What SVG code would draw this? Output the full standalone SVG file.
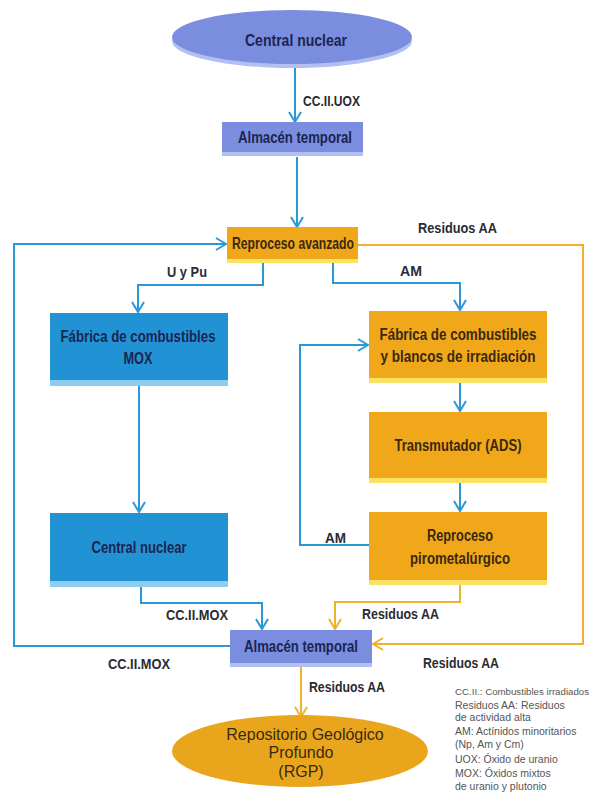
<svg xmlns="http://www.w3.org/2000/svg" width="592" height="810" viewBox="0 0 592 810">
<defs>
<style>
.bl{fill:none;stroke:#2a98d8;stroke-width:2}
.ol{fill:none;stroke:#f0b22a;stroke-width:2}
.t{font-family:"Liberation Sans Narrow","Liberation Sans",Arial,sans-serif;font-weight:bold;font-size:16px}
.tb{fill:#1b2550}
.to{fill:#3a2810}
.lab{font-family:"Liberation Sans Narrow","Liberation Sans",Arial,sans-serif;font-weight:bold;font-size:15px;fill:#2b2b33}
.leg{font-family:"Liberation Sans Narrow","Liberation Sans",Arial,sans-serif;font-size:10.5px;fill:#555}
.per{fill:#7a8ddf}.pers{fill:#b3bff0}
.blu{fill:#2193d5}.blus{fill:#8fcdf0}
.ora{fill:#f0a81a}.oras{fill:#fae264}
</style>
<marker id="ab" viewBox="0 0 12 14" refX="11" refY="7" markerWidth="12" markerHeight="14" markerUnits="userSpaceOnUse" orient="auto"><path d="M1,1 L11,7 L1,13" fill="none" stroke="#2a98d8" stroke-width="2"/></marker>
<marker id="ao" viewBox="0 0 12 14" refX="11" refY="7" markerWidth="12" markerHeight="14" markerUnits="userSpaceOnUse" orient="auto"><path d="M1,1 L11,7 L1,13" fill="none" stroke="#f0b22a" stroke-width="2"/></marker>
</defs>
<rect width="592" height="810" fill="#ffffff"/>

<g id="connectors">
<path class="bl" d="M295,67 V122" marker-end="url(#ab)"/>
<path class="bl" d="M297,157 V227" marker-end="url(#ab)"/>
<path class="bl" d="M230,646 H14 V244 H226" marker-end="url(#ab)"/>
<path class="ol" d="M358,245 H583 V644 H373" marker-end="url(#ao)"/>
<path class="bl" d="M263,263 V285 H138 V312" marker-end="url(#ab)"/>
<path class="bl" d="M333,263 V283 H460 V310" marker-end="url(#ab)"/>
<path class="bl" d="M139,386 V512" marker-end="url(#ab)"/>
<path class="bl" d="M141,587 V603 H262 V629" marker-end="url(#ab)"/>
<path class="bl" d="M460,383 V411" marker-end="url(#ab)"/>
<path class="bl" d="M460,483 V511" marker-end="url(#ab)"/>
<path class="bl" d="M369,545 H300 V345 H368" marker-end="url(#ab)"/>
<path class="ol" d="M460,585 V602 H335 V629" marker-end="url(#ao)"/>
<path class="ol" d="M301,667 V717" marker-end="url(#ao)"/>
<text class="lab" x="303" y="106" textLength="57" lengthAdjust="spacingAndGlyphs">CC.II.UOX</text>
<text class="lab" x="418" y="233" textLength="79" lengthAdjust="spacingAndGlyphs">Residuos AA</text>
<text class="lab" x="167" y="277" textLength="40" lengthAdjust="spacingAndGlyphs">U y Pu</text>
<text class="lab" x="400" y="276" textLength="22" lengthAdjust="spacingAndGlyphs">AM</text>
<text class="lab" x="325" y="543" textLength="21" lengthAdjust="spacingAndGlyphs">AM</text>
<text class="lab" x="166" y="620" textLength="62" lengthAdjust="spacingAndGlyphs">CC.II.MOX</text>
<text class="lab" x="362" y="619" textLength="77" lengthAdjust="spacingAndGlyphs">Residuos AA</text>
<text class="lab" x="108" y="669" textLength="62" lengthAdjust="spacingAndGlyphs">CC.II.MOX</text>
<text class="lab" x="423" y="668" textLength="76" lengthAdjust="spacingAndGlyphs">Residuos AA</text>
<text class="lab" x="309" y="692" textLength="76" lengthAdjust="spacingAndGlyphs">Residuos AA</text>
</g>

<g id="central-nuclear-top">
<ellipse cx="292" cy="41" rx="120" ry="27" class="pers"/>
<ellipse cx="292" cy="37" rx="120" ry="27" class="per"/>
<text class="t tb" x="296" y="46" text-anchor="middle" textLength="102" lengthAdjust="spacingAndGlyphs">Central nuclear</text>
</g>

<g id="almacen-1">
<rect x="222" y="126" width="141" height="30" class="pers"/>
<rect x="222" y="122" width="141" height="30" class="per"/>
<text class="t tb" x="295" y="143" text-anchor="middle" textLength="114" lengthAdjust="spacingAndGlyphs">Almacén temporal</text>
</g>

<g id="reproceso-avanzado">
<rect x="227" y="231" width="131" height="32" class="oras"/>
<rect x="227" y="227" width="131" height="32" class="ora"/>
<text class="t to" x="293" y="249" text-anchor="middle" textLength="122" lengthAdjust="spacingAndGlyphs">Reproceso avanzado</text>
</g>

<g id="fabrica-mox">
<rect x="50" y="319" width="178" height="67" class="blus"/>
<rect x="50" y="313" width="178" height="67" class="blu"/>
<text class="t tb" x="138" y="342" text-anchor="middle" textLength="155" lengthAdjust="spacingAndGlyphs">Fábrica de combustibles</text>
<text class="t tb" x="138" y="364" text-anchor="middle" textLength="29" lengthAdjust="spacingAndGlyphs">MOX</text>
</g>

<g id="central-nuclear-box">
<rect x="50" y="519" width="178" height="68" class="blus"/>
<rect x="50" y="513" width="178" height="68" class="blu"/>
<text class="t tb" x="139" y="553" text-anchor="middle" textLength="95" lengthAdjust="spacingAndGlyphs">Central nuclear</text>
</g>

<g id="fabrica-blancos">
<rect x="369" y="316" width="178" height="67" class="oras"/>
<rect x="369" y="311" width="178" height="67" class="ora"/>
<text class="t to" x="458" y="340" text-anchor="middle" textLength="157" lengthAdjust="spacingAndGlyphs">Fábrica de combustibles</text>
<text class="t to" x="458" y="362" text-anchor="middle" textLength="155" lengthAdjust="spacingAndGlyphs">y blancos de irradiación</text>
</g>

<g id="transmutador">
<rect x="369" y="417" width="178" height="66" class="oras"/>
<rect x="369" y="412" width="178" height="66" class="ora"/>
<text class="t to" x="458" y="451" text-anchor="middle" textLength="127" lengthAdjust="spacingAndGlyphs">Transmutador (ADS)</text>
</g>

<g id="reproceso-pirometalurgico">
<rect x="369" y="517" width="178" height="68" class="oras"/>
<rect x="369" y="512" width="178" height="68" class="ora"/>
<text class="t to" x="460" y="541" text-anchor="middle" textLength="66" lengthAdjust="spacingAndGlyphs">Reproceso</text>
<text class="t to" x="460" y="564" text-anchor="middle" textLength="100" lengthAdjust="spacingAndGlyphs">pirometalúrgico</text>
</g>

<g id="almacen-2">
<rect x="230" y="634" width="142" height="33" class="pers"/>
<rect x="230" y="630" width="142" height="33" class="per"/>
<text class="t tb" x="301" y="652" text-anchor="middle" textLength="114" lengthAdjust="spacingAndGlyphs">Almacén temporal</text>
</g>

<g id="rgp">
<ellipse cx="300" cy="751" rx="128" ry="36" fill="#e9a51c"/>
<text x="305" y="740" text-anchor="middle" font-family="'Liberation Sans',Arial,sans-serif" font-size="16" fill="#3a2a12">Repositorio Geológico</text>
<text x="301" y="758" text-anchor="middle" font-family="'Liberation Sans',Arial,sans-serif" font-size="16" fill="#3a2a12">Profundo</text>
<text x="301" y="777" text-anchor="middle" font-family="'Liberation Sans',Arial,sans-serif" font-size="16" fill="#3a2a12">(RGP)</text>
</g>

<g id="legend">
<text class="leg" x="455" y="695" style="font-size:9.7px">CC.II.: Combustibles irradiados</text>
<text class="leg" x="455" y="709">Residuos AA: Residuos</text>
<text class="leg" x="455" y="721">de actividad alta</text>
<text class="leg" x="455" y="735">AM: Actínidos minoritarios</text>
<text class="leg" x="455" y="748">(Np, Am y Cm)</text>
<text class="leg" x="455" y="763">UOX: Óxido de uranio</text>
<text class="leg" x="455" y="777">MOX: Óxidos mixtos</text>
<text class="leg" x="455" y="790">de uranio y plutonio</text>
</g>
</svg>
